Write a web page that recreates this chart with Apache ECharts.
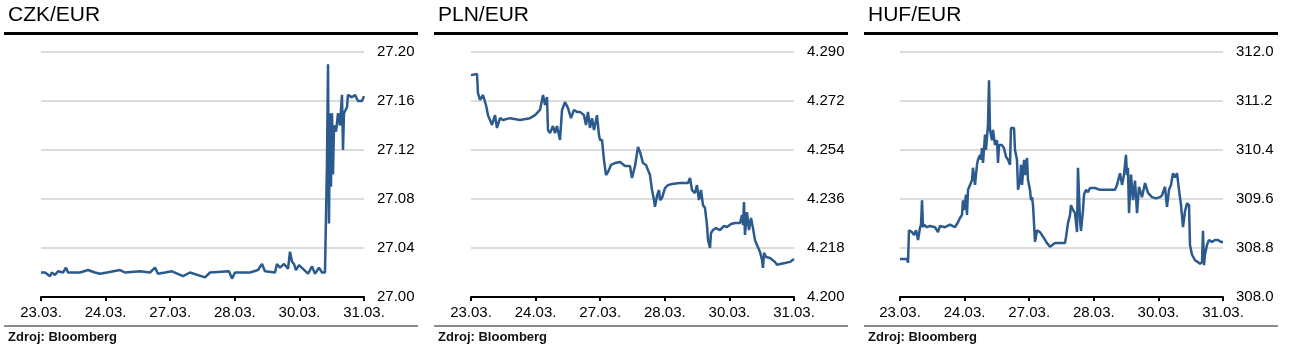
<!DOCTYPE html>
<html>
<head>
<meta charset="utf-8">
<script src="https://cdn.jsdelivr.net/npm/echarts@6/dist/echarts.min.js"></script>
<style>
html,body{margin:0;padding:0;background:#fff;}
#main{width:1291px;height:352px;}
</style>
</head>
<body>
<div id="main"></div>
<script>
// obchodni dny na ose x (0..5)
var dayLabels = ['23.03.', '24.03.', '27.03.', '28.03.', '30.03.', '31.03.'];

// [den, kurz]
var czkData = [
  [0.000,27.020],[0.062,27.020],[0.139,27.017],[0.170,27.020],[0.217,27.018],[0.263,27.021],
  [0.341,27.020],[0.387,27.024],[0.418,27.020],[0.604,27.020],[0.728,27.022],[0.836,27.020],
  [0.913,27.019],[1.022,27.020],[1.223,27.022],[1.300,27.020],[1.533,27.021],[1.687,27.020],
  [1.765,27.024],[1.811,27.019],[1.920,27.020],[2.028,27.021],[2.198,27.017],[2.307,27.020],
  [2.539,27.016],[2.616,27.020],[2.910,27.021],[2.957,27.015],[3.003,27.020],[3.235,27.020],
  [3.359,27.022],[3.421,27.027],[3.467,27.021],[3.622,27.020],[3.653,27.027],[3.700,27.024],
  [3.762,27.027],[3.824,27.023],[3.854,27.037],[3.885,27.029],[3.916,27.027],[3.947,27.022],
  [3.994,27.026],[4.056,27.023],[4.133,27.019],[4.195,27.025],[4.241,27.019],[4.303,27.024],
  [4.350,27.020],[4.396,27.020],[4.427,27.110],[4.443,27.190],[4.458,27.060],[4.474,27.150],
  [4.489,27.090],[4.505,27.150],[4.520,27.100],[4.536,27.140],[4.567,27.135],[4.598,27.150],
  [4.628,27.140],[4.659,27.165],[4.675,27.120],[4.690,27.150],[4.737,27.155],[4.752,27.165],
  [4.814,27.163],[4.861,27.165],[4.907,27.160],[4.969,27.160],[5.000,27.164]
];

var plnData = [
  [0.000,4.2815],[0.093,4.2819],[0.108,4.2749],[0.139,4.2724],[0.186,4.2742],[0.232,4.2705],
  [0.263,4.2668],[0.294,4.2650],[0.325,4.2632],[0.372,4.2668],[0.402,4.2621],[0.449,4.2657],
  [0.495,4.2650],[0.604,4.2657],[0.759,4.2650],[0.913,4.2657],[0.991,4.2668],[1.068,4.2687],
  [1.115,4.2742],[1.146,4.2705],[1.176,4.2735],[1.192,4.2613],[1.223,4.2602],[1.269,4.2628],
  [1.300,4.2602],[1.331,4.2628],[1.378,4.2577],[1.409,4.2687],[1.455,4.2716],[1.502,4.2694],
  [1.548,4.2657],[1.594,4.2687],[1.641,4.2680],[1.687,4.2680],[1.749,4.2668],[1.780,4.2632],
  [1.811,4.2680],[1.842,4.2621],[1.873,4.2657],[1.904,4.2613],[1.950,4.2668],[1.981,4.2595],
  [1.997,4.2577],[2.028,4.2577],[2.059,4.2503],[2.090,4.2448],[2.121,4.2459],[2.167,4.2485],
  [2.229,4.2492],[2.307,4.2496],[2.384,4.2481],[2.461,4.2481],[2.492,4.2437],[2.539,4.2481],
  [2.585,4.2551],[2.616,4.2533],[2.663,4.2492],[2.709,4.2485],[2.740,4.2466],[2.771,4.2448],
  [2.802,4.2393],[2.833,4.2356],[2.848,4.2331],[2.879,4.2371],[2.910,4.2393],[2.926,4.2356],
  [2.957,4.2364],[3.003,4.2400],[3.050,4.2411],[3.111,4.2415],[3.235,4.2419],[3.359,4.2419],
  [3.390,4.2437],[3.421,4.2393],[3.467,4.2382],[3.498,4.2411],[3.529,4.2356],[3.560,4.2393],
  [3.591,4.2338],[3.622,4.2327],[3.653,4.2264],[3.669,4.2209],[3.700,4.2180],[3.715,4.2235],
  [3.746,4.2246],[3.793,4.2253],[3.854,4.2246],[3.916,4.2261],[3.963,4.2257],[4.025,4.2268],
  [4.087,4.2272],[4.164,4.2272],[4.195,4.2301],[4.211,4.2264],[4.226,4.2349],[4.241,4.2228],
  [4.272,4.2312],[4.303,4.2246],[4.334,4.2290],[4.365,4.2253],[4.396,4.2209],[4.427,4.2191],
  [4.474,4.2165],[4.505,4.2136],[4.520,4.2107],[4.536,4.2162],[4.567,4.2147],[4.628,4.2143],
  [4.706,4.2129],[4.737,4.2118],[4.783,4.2121],[4.861,4.2125],[4.938,4.2129],[5.000,4.2140]
];

var hufData = [
  [0.000,308.62],[0.108,308.62],[0.124,308.56],[0.139,309.09],[0.186,309.06],[0.217,309.01],
  [0.248,309.09],[0.279,308.93],[0.310,309.13],[0.325,309.18],[0.341,309.58],[0.356,309.14],
  [0.372,309.18],[0.418,309.14],[0.464,309.16],[0.542,309.14],[0.588,309.06],[0.619,309.16],
  [0.697,309.14],[0.774,309.18],[0.851,309.14],[0.898,309.22],[0.929,309.29],[0.960,309.34],
  [0.975,309.58],[0.991,309.42],[1.022,309.67],[1.037,309.34],[1.053,309.75],[1.084,309.83],
  [1.115,309.91],[1.130,310.11],[1.161,309.83],[1.192,310.16],[1.207,310.24],[1.238,310.32],
  [1.254,310.24],[1.269,310.43],[1.285,310.19],[1.316,310.65],[1.331,310.40],[1.362,310.81],
  [1.378,311.54],[1.393,310.73],[1.424,310.56],[1.440,310.73],[1.471,310.48],[1.502,310.56],
  [1.517,310.19],[1.533,310.48],[1.579,310.48],[1.610,310.43],[1.641,310.29],[1.672,310.24],
  [1.703,310.16],[1.718,310.76],[1.765,310.76],[1.780,310.40],[1.811,310.24],[1.827,309.75],
  [1.858,309.91],[1.873,310.16],[1.889,309.83],[1.920,310.24],[1.935,309.99],[1.966,310.27],
  [1.981,309.91],[2.012,309.75],[2.028,309.58],[2.043,309.63],[2.059,309.50],[2.074,309.21],
  [2.090,308.90],[2.121,309.09],[2.167,309.06],[2.198,309.01],[2.229,308.96],[2.276,308.88],
  [2.322,308.82],[2.399,308.88],[2.554,308.88],[2.570,308.98],[2.601,309.21],[2.632,309.34],
  [2.647,309.50],[2.678,309.42],[2.709,309.37],[2.740,309.06],[2.755,310.11],[2.786,309.26],
  [2.802,309.08],[2.833,309.42],[2.848,309.67],[2.879,309.75],[2.910,309.71],[2.941,309.78],
  [3.019,309.78],[3.096,309.75],[3.251,309.75],[3.328,309.75],[3.359,309.83],[3.406,310.02],
  [3.437,309.83],[3.467,309.99],[3.498,310.32],[3.514,309.99],[3.529,310.11],[3.545,309.37],
  [3.576,310.00],[3.607,309.58],[3.638,309.90],[3.669,309.37],[3.700,309.80],[3.746,309.63],
  [3.793,309.86],[3.839,309.70],[3.901,309.63],[3.963,309.61],[4.025,309.63],[4.056,309.66],
  [4.102,309.80],[4.133,309.47],[4.164,309.75],[4.195,309.83],[4.226,310.02],[4.257,309.95],
  [4.288,310.02],[4.319,309.75],[4.350,309.50],[4.381,309.14],[4.412,309.40],[4.443,309.53],
  [4.474,309.50],[4.489,308.85],[4.520,308.69],[4.567,308.60],[4.613,308.57],[4.644,308.54],
  [4.675,308.57],[4.690,309.08],[4.706,308.52],[4.721,308.69],[4.752,308.85],[4.783,308.93],
  [4.830,308.90],[4.876,308.93],[4.923,308.93],[4.969,308.90],[5.000,308.90]
];

var panels = [
  {title: 'CZK/EUR', data: czkData, min: 27.0, max: 27.2, step: 0.04, digits: 2, ox: 0, tx: 0},
  {title: 'PLN/EUR', data: plnData, min: 4.2, max: 4.29, step: 0.018, digits: 3, ox: 430, tx: 430},
  {title: 'HUF/EUR', data: hufData, min: 308, max: 312, step: 0.8, digits: 1, ox: 859, tx: 860}
];

var font = 'Liberation Sans, Arial, sans-serif';
var myChart = echarts.init(document.getElementById('main'));

var option = {
  animation: false,
  backgroundColor: '#fff',
  title: [], grid: [], xAxis: [], yAxis: [], series: [], graphic: []
};

panels.forEach(function (p, i) {
  option.title.push({
    text: p.title, left: 8 + p.tx, top: 5, padding: 0,
    textStyle: {fontSize: 21, fontWeight: 'normal', color: '#000', fontFamily: font}
  });
  option.title.push({
    text: 'Zdroj: Bloomberg', left: 8 + p.tx, top: 331, padding: 0,
    textStyle: {fontSize: 13, fontWeight: 'bold', color: '#111', fontFamily: font}
  });
  option.graphic.push({type: 'rect', shape: {x: 4 + p.tx, y: 32, width: 414, height: 3}, style: {fill: '#000'}});
  option.graphic.push({type: 'rect', shape: {x: 4 + p.tx, y: 325, width: 414, height: 2}, style: {fill: '#8c8c8c'}});

  option.grid.push({left: 41 + p.ox, top: 52, width: 323, height: 245});
  option.xAxis.push({
    gridIndex: i, type: 'value', min: 0, max: 5, interval: 1,
    axisLine: {lineStyle: {color: '#000', width: 2}},
    axisTick: {show: true, length: 4, lineStyle: {color: '#000', width: 2}},
    axisLabel: {
      color: '#000', fontSize: 15, margin: 8, fontFamily: font,
      formatter: function (v) { return dayLabels[Math.round(v)]; }
    },
    splitLine: {show: false}
  });
  option.yAxis.push({
    gridIndex: i, type: 'value', position: 'right',
    min: p.min, max: p.max, interval: p.step,
    axisLine: {show: false}, axisTick: {show: false},
    axisLabel: {
      color: '#000', fontSize: 15, margin: 13, fontFamily: font,
      formatter: function (v) { return v.toFixed(p.digits); }
    },
    splitLine: {lineStyle: {color: '#dcdcdc', width: 2}}
  });
  option.series.push({
    type: 'line', xAxisIndex: i, yAxisIndex: i, data: p.data,
    symbol: 'none', lineStyle: {color: '#2b5a8e', width: 2.5}
  });
});

myChart.setOption(option);
</script>
</body>
</html>
